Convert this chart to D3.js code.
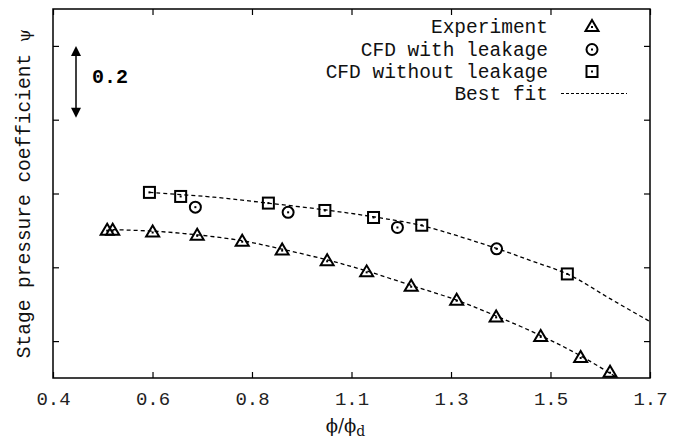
<!DOCTYPE html>
<html><head><meta charset="utf-8">
<script src="https://cdn.jsdelivr.net/npm/d3@7"></script>
<style>body{margin:0;background:#fff}svg{display:block}</style>
</head><body>
<svg id="c" width="680" height="441"></svg>
<script>
const xTickValues = [0.4, 0.6167, 0.8333, 1.05, 1.2667, 1.4833, 1.7];
const xTickLabels = ["0.4", "0.6", "0.8", "1.1", "1.3", "1.5", "1.7"];
const yTickValues = [0.2, 0.4, 0.6, 0.8, 1.0];

const expX = [0.518, 0.530, 0.617, 0.714, 0.812, 0.899, 0.997, 1.083, 1.180, 1.279, 1.365, 1.462, 1.549, 1.613];
const expY = [0.502, 0.502, 0.497, 0.488, 0.472, 0.448, 0.419, 0.389, 0.350, 0.312, 0.267, 0.214, 0.157, 0.117];

const leakX = [0.710, 0.912, 1.150, 1.366];
const leakY = [0.563, 0.549, 0.508, 0.450];

const noLeakX = [0.610, 0.678, 0.869, 0.992, 1.098, 1.203, 1.520];
const noLeakY = [0.603, 0.592, 0.574, 0.554, 0.535, 0.514, 0.382];

const fitHiX = [0.610, 0.750, 0.868, 0.990, 1.097, 1.203, 1.366, 1.445, 1.525, 1.613, 1.700];
const fitHiY = [0.603, 0.590, 0.574, 0.556, 0.537, 0.513, 0.451, 0.416, 0.379, 0.315, 0.253];

const fitLoX = [0.530, 0.617, 0.714, 0.812, 0.899, 0.997, 1.083, 1.180, 1.279, 1.365, 1.462, 1.549, 1.640];
const fitLoY = [0.502, 0.498, 0.488, 0.472, 0.449, 0.420, 0.390, 0.351, 0.311, 0.268, 0.215, 0.160, 0.092];

const legendLabels = ["Experiment", "CFD with leakage", "CFD without leakage", "Best fit"];

const W = 680, H = 441;
const m = {l: 53, r: 650, t: 9, b: 378};
const svg = d3.select("#c");
const x = d3.scaleLinear().domain([0.4, 1.7]).range([m.l, m.r]);
const y = d3.scaleLinear().domain([0.1, 1.1]).range([m.b, m.t]);
const MONO = "'Liberation Mono','Courier New',monospace";

svg.append("defs").append("clipPath").attr("id", "clip")
  .append("rect").attr("x", m.l).attr("y", m.t).attr("width", m.r - m.l).attr("height", m.b - m.t);

// axes with inward ticks
const tickLen = 6;
const axB = d3.axisBottom(x).tickValues(xTickValues).tickSize(-tickLen).tickFormat((d, i) => xTickLabels[i]).tickPadding(14);
const gB = svg.append("g").attr("transform", `translate(0,${m.b})`).call(axB);
const axT = d3.axisTop(x).tickValues(xTickValues).tickSize(-tickLen).tickFormat("");
const gT = svg.append("g").attr("transform", `translate(0,${m.t})`).call(axT);
const axL = d3.axisLeft(y).tickValues(yTickValues).tickSize(-tickLen).tickFormat("");
const gL = svg.append("g").attr("transform", `translate(${m.l},0)`).call(axL);
const axR = d3.axisRight(y).tickValues(yTickValues).tickSize(-tickLen).tickFormat("");
const gR = svg.append("g").attr("transform", `translate(${m.r},0)`).call(axR);
[gB, gT, gL, gR].forEach(g => {
  g.select(".domain").remove();
  g.selectAll(".tick line").attr("stroke", "#000").attr("stroke-width", 1.2);
});
gB.selectAll(".tick text").attr("font-family", MONO).attr("font-size", 19).attr("fill", "#222");
svg.append("rect").attr("x", m.l).attr("y", m.t).attr("width", m.r - m.l).attr("height", m.b - m.t)
  .attr("fill", "none").attr("stroke", "#000").attr("stroke-width", 1.5);

// fit lines
const line = d3.line().x(d => x(d[0])).y(d => y(d[1])).curve(d3.curveCatmullRom);
const fitG = svg.append("g").attr("clip-path", "url(#clip)");
[[fitHiX, fitHiY], [fitLoX, fitLoY]].forEach(([xs, ys]) => {
  fitG.append("path").datum(xs.map((v, i) => [v, ys[i]])).attr("d", line)
    .attr("fill", "none").attr("stroke", "#000").attr("stroke-width", 1.3).attr("stroke-dasharray", "4,3");
});

// markers
function tri(g, cx, cy) {
  g.append("path").attr("d", `M${cx-6.5},${cy+5}L${cx+6.5},${cy+5}L${cx},${cy-6}Z`)
    .attr("fill", "none").attr("stroke", "#000").attr("stroke-width", 2).attr("stroke-linejoin", "miter");
  g.append("rect").attr("x", cx-1).attr("y", cy).attr("width", 2).attr("height", 2).attr("fill", "#000");
}
function circ(g, cx, cy) {
  g.append("circle").attr("cx", cx).attr("cy", cy).attr("r", 5.5)
    .attr("fill", "none").attr("stroke", "#000").attr("stroke-width", 2);
  g.append("rect").attr("x", cx-1).attr("y", cy-1).attr("width", 2).attr("height", 2).attr("fill", "#000");
}
function sq(g, cx, cy) {
  g.append("rect").attr("x", cx-5.5).attr("y", cy-5.5).attr("width", 11).attr("height", 11)
    .attr("fill", "none").attr("stroke", "#000").attr("stroke-width", 2);
  g.append("rect").attr("x", cx-1).attr("y", cy-1).attr("width", 2).attr("height", 2).attr("fill", "#000");
}
const mk = svg.append("g");
expX.forEach((v, i) => tri(mk, x(v), y(expY[i])));
leakX.forEach((v, i) => circ(mk, x(v), y(leakY[i])));
noLeakX.forEach((v, i) => sq(mk, x(v), y(noLeakY[i])));

// legend
const lg = svg.append("g");
const ly = [33, 56, 77.5, 100];
legendLabels.forEach((t, i) => {
  lg.append("text").attr("x", 548).attr("y", ly[i]).attr("text-anchor", "end")
    .attr("font-family", MONO).attr("font-size", 19.5).attr("fill", "#111").text(t);
});
tri(lg, 592, 26);
circ(lg, 592, 49.5);
sq(lg, 592, 71.5);
lg.append("line").attr("x1", 561).attr("x2", 627).attr("y1", 93.5).attr("y2", 93.5)
  .attr("stroke", "#000").attr("stroke-width", 1).attr("stroke-dasharray", "3,2");

// scale arrow
const ax0 = 76, ay0 = y(1.0), ay1 = y(0.8) - 2;
svg.append("line").attr("x1", ax0).attr("x2", ax0).attr("y1", ay0 + 8).attr("y2", ay1 - 8)
  .attr("stroke", "#000").attr("stroke-width", 1.5);
svg.append("path").attr("d", `M${ax0},${ay0}L${ax0-5},${ay0+10}L${ax0+5},${ay0+10}Z`).attr("fill", "#000");
svg.append("path").attr("d", `M${ax0},${ay1}L${ax0-5},${ay1-10}L${ax0+5},${ay1-10}Z`).attr("fill", "#000");
svg.append("text").attr("x", 92).attr("y", 83).attr("font-family", MONO).attr("font-weight", "bold")
  .attr("font-size", 20).attr("fill", "#000").text("0.2");

// axis titles
const yl = svg.append("text").attr("transform", `translate(30,${(m.t + m.b) / 2}) rotate(-90)`)
  .attr("text-anchor", "middle").attr("font-family", MONO).attr("font-size", 19.5).attr("fill", "#111");
yl.append("tspan").text("Stage pressure coefficient ");
yl.append("tspan").attr("font-family", "'DejaVu Serif',serif").attr("font-size", 17).text("ψ");

const xl = svg.append("text").attr("x", (m.l + m.r) / 2 - 6).attr("y", 432).attr("text-anchor", "middle")
  .attr("font-family", "'DejaVu Serif','Liberation Serif',serif").attr("font-size", 18).attr("fill", "#111");
xl.append("tspan").text("ϕ/ϕ");
xl.append("tspan").attr("dy", 4).attr("font-size", 14).text("d");
</script>
</body></html>
